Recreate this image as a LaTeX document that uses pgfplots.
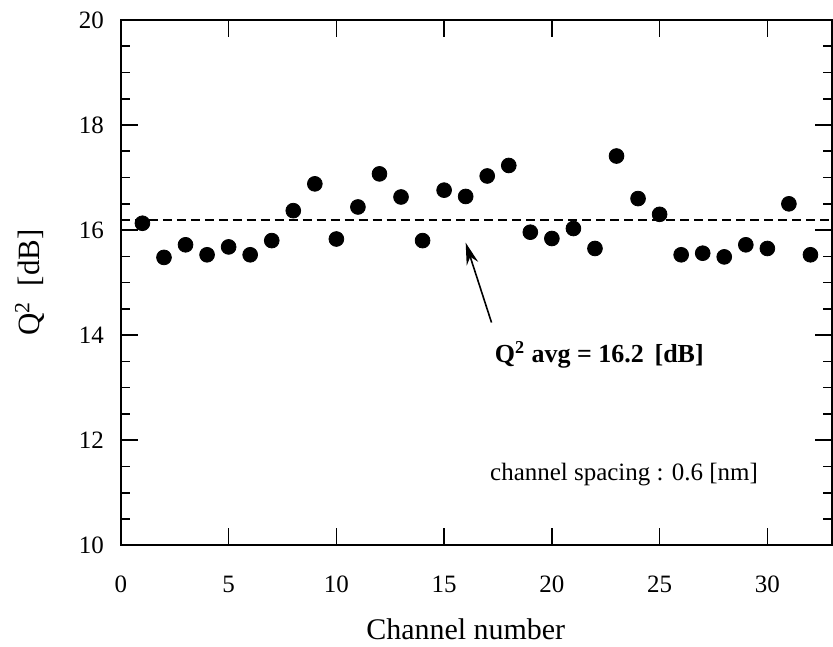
\documentclass[border=0pt]{standalone}
\usepackage{pgfplots}
\pgfplotsset{compat=1.18}
\usepackage{fontspec}
\setmainfont{Liberation Serif}
\usetikzlibrary{arrows.meta}

\begin{document}
\begin{tikzpicture}
\begin{axis}[
  width=356pt, height=263pt,
  scale only axis,
  xmin=0, xmax=33,
  ymin=10, ymax=20,
  xtick={0,5,...,30},
  ytick={10,12,...,20},
  minor y tick num=3,
  tick align=inside,
  major tick length=8.5pt,
  minor tick length=4.5pt,
  axis line style={line width=0.9pt},
  every tick/.style={line width=0.8pt, black},
  tick label style={font=\fontsize{12.5}{14}\selectfont},
  /pgf/number format/assume math mode=true,
  xticklabel style={yshift=-12pt},
  yticklabel style={xshift=-5pt},
  xlabel={Channel number},
  ylabel={Q\textsuperscript{2}\ \ [dB]},
  xlabel style={font=\fontsize{15}{17}\selectfont, at={(axis description cs:0.485,-0.160)}, anchor=center},
  ylabel style={font=\fontsize{15.5}{17}\selectfont, at={(axis description cs:-0.128,0.5)}, anchor=center},
  clip=false,
]
% average level
\addplot[black, line width=1pt, dash pattern=on 4.5pt off 2.5pt] coordinates {(0,16.2) (33,16.2)};
% measured Q^2 per channel
\addplot[only marks, mark=*, mark size=3.7pt, black] coordinates {
  (1,16.13) (2,15.48) (3,15.72) (4,15.53) (5,15.68) (6,15.53) (7,15.80) (8,16.37)
  (9,16.88) (10,15.83) (11,16.44) (12,17.07) (13,16.63) (14,15.80) (15,16.76) (16,16.64)
  (17,17.03) (18,17.23) (19,15.96) (20,15.84) (21,16.03) (22,15.65) (23,17.41) (24,16.60)
  (25,16.30) (26,15.53) (27,15.56) (28,15.49) (29,15.72) (30,15.65) (31,16.50) (32,15.53)
};
\draw[-{Stealth[length=11pt, width=6pt]}, line width=0.8pt] (axis cs:17.2,14.24) -- (axis cs:16.0,15.76);
\node[font=\fontsize{13}{15}\selectfont\bfseries] at (axis cs:22.2,13.63) {Q\textsuperscript{2} avg = 16.2 \,[dB]};
\node[font=\fontsize{12.5}{14}\selectfont] at (axis cs:23.35,11.35) {channel spacing : 0.6 [nm]};
% page margins as in the reference
\path (axis description cs:-0.17,1.038) (axis description cs:1.0,-0.186);
\end{axis}
\end{tikzpicture}
\end{document}
